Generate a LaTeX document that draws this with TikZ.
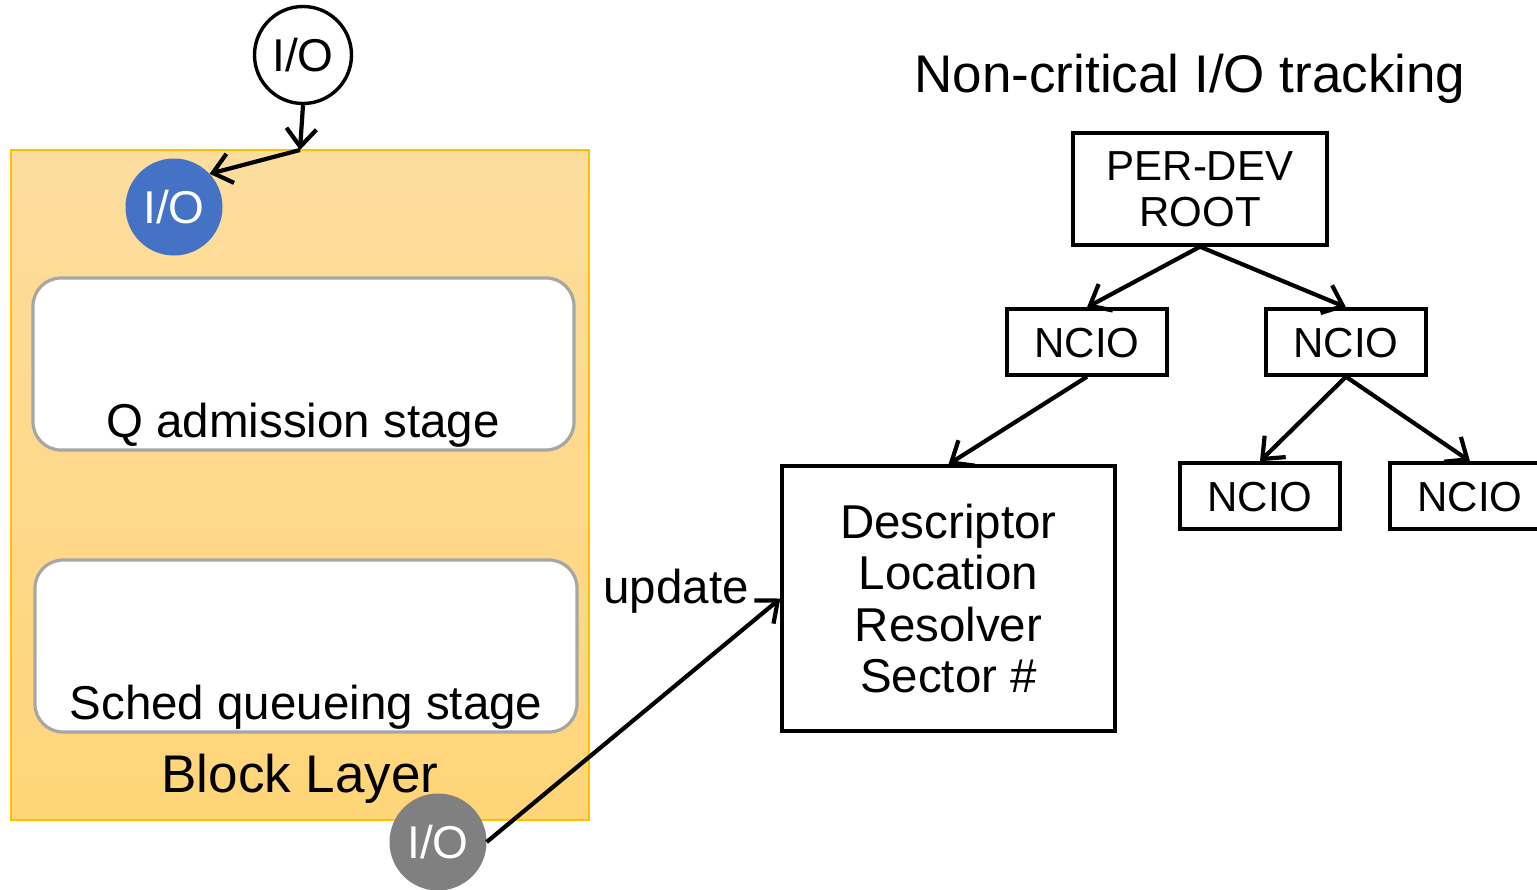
\documentclass[tikz,border=0pt]{standalone}
\usepackage{fontspec}
\setmainfont{Liberation Sans}
\usetikzlibrary{arrows.meta}
\definecolor{blockfillA}{RGB}{253,221,158}
\definecolor{blockfillB}{RGB}{255,213,120}
\definecolor{blockborder}{RGB}{255,192,0}
\definecolor{ioblue}{RGB}{68,114,196}
\definecolor{iogray}{RGB}{128,128,128}
\definecolor{stageborder}{RGB}{166,166,166}
\tikzset{
  fs/.style={font=\fontsize{#1}{56}\selectfont},
  arr/.style={line width=4.2pt, -{Straight Barb[length=18pt,width=30pt,line width=4.2pt]}},
  iocirc/.style={circle, inner sep=0pt, minimum size=97pt, fs=46, text height=33pt, text depth=0pt},
  treebox/.style={draw, line width=3.4pt, inner sep=0pt},
  ncio/.style={treebox, minimum width=160pt, minimum height=66pt, fs=42, text height=30pt, text depth=0pt},
  stagebox/.style={draw=stageborder, fill=white, line width=3.2pt, rounded corners=28pt, inner sep=0pt},
  lbl/.style={anchor=base, inner sep=0pt, fs=47.5},
}
\begin{document}
\begin{tikzpicture}[x=1pt,y=-1pt]
\useasboundingbox (0,0) rectangle (1537,889);
\fill[white] (0,0) rectangle (1537,889);

% Block layer container
\node[draw=blockborder, line width=1.4pt, top color=blockfillA, bottom color=blockfillB,
      minimum width=578pt, minimum height=670pt, inner sep=0pt] (block) at (300,485) {};
\node[stagebox, minimum width=541pt, minimum height=172pt] (qstage) at (303.5,364) {};
\node[stagebox, minimum width=542pt, minimum height=172pt] (sstage) at (306,646) {};
\node[lbl] (qlbl) at (303,437) {Q admission stage};
\node[lbl] (slbl) at (306,719) {Sched queueing stage};
\node[lbl, fs=53] (blbl) at (300,792) {Block Layer};

% I/O circles
\node[iocirc, draw, line width=3.4pt, fill=white] (topio) at (303,55) {I/O};
\node[iocirc, fill=ioblue, text=white] (blueio) at (174,207) {I/O};
\node[iocirc, fill=iogray, text=white] (grayio) at (438,842) {I/O};

\coordinate (junc) at (300,150);
\draw[arr] (topio.south) -- (junc);
\draw[arr] (junc) -- (blueio.43);

% Title
\node[anchor=base, inner sep=0pt, fs=53] (title) at (1190,92) {Non-critical I/O tracking};

% Tree
\node[treebox, minimum width=254pt, minimum height=112pt, align=center,
      font=\fontsize{42}{46}\selectfont] (root) at (1200,189) {PER-DEV\\ROOT};
\node[ncio] (ncioL) at (1087,342) {NCIO};
\node[ncio] (ncioR) at (1346,342) {NCIO};
\node[ncio] (ncioBL) at (1260,496) {NCIO};
\node[ncio] (ncioBR) at (1470,496) {NCIO};
\node[treebox, minimum width=333pt, minimum height=265pt, align=center,
      font=\fontsize{47.5}{51.5}\selectfont] (desc) at (948.5,598.5)
      {Descriptor\\Location\\Resolver\\Sector \#};

\draw[arr] (root.south) -- (ncioL.north);
\draw[arr] (root.south) -- (ncioR.north);
\draw[arr] (ncioL.south) -- (desc.north);
\draw[arr] (ncioR.south) -- (ncioBL.north);
\draw[arr] (ncioR.south) -- (ncioBR.north);

% update
\draw[arr] (grayio.east) -- (desc.west);
\node[lbl] (upd) at (676,603) {update};
\end{tikzpicture}
\end{document}
